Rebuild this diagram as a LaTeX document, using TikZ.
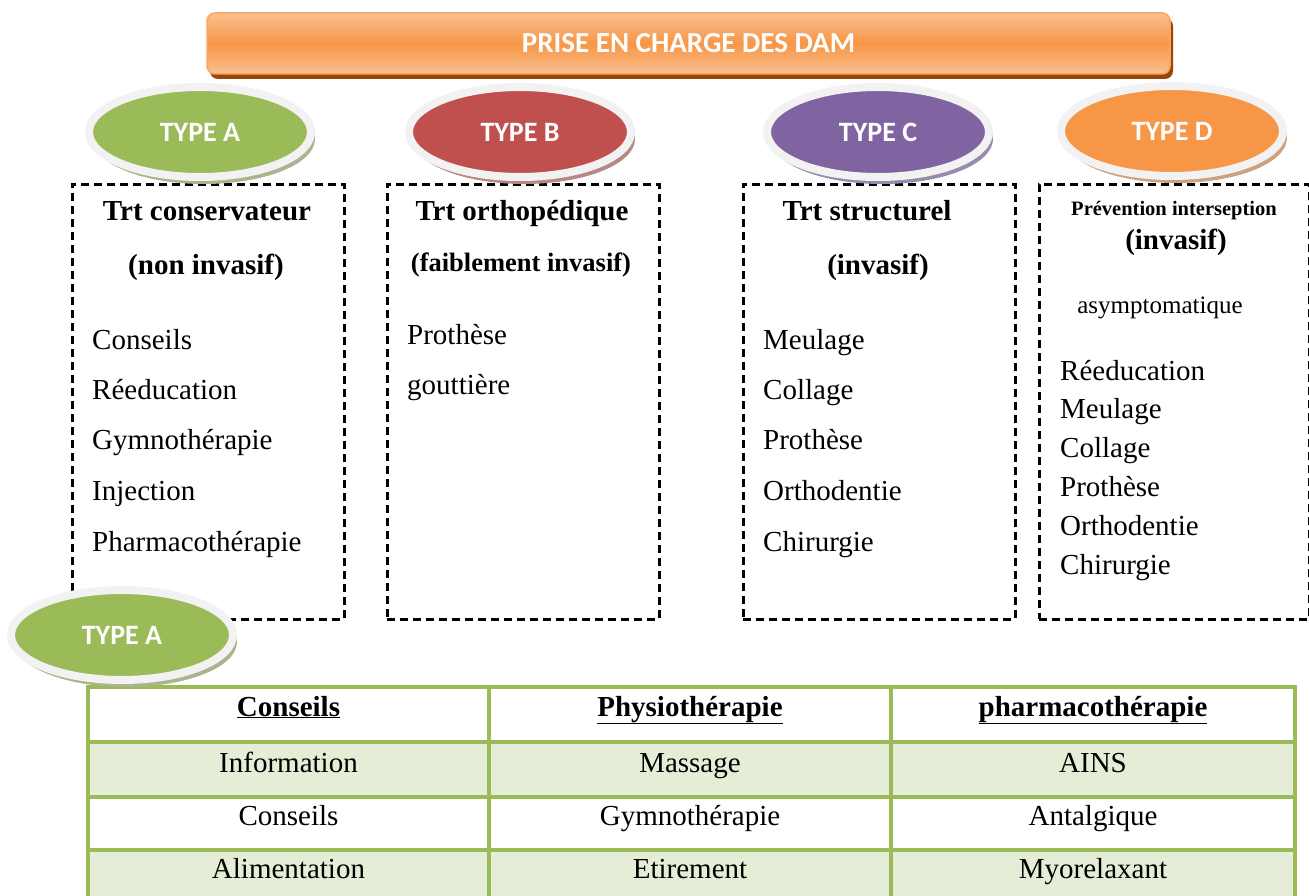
\documentclass[tikz,border=0pt]{standalone}
\usepackage{fontspec}
\setmainfont{Liberation Serif}
\newfontfamily\calibri{Carlito}
\usetikzlibrary{shapes.geometric,shadows}

\definecolor{gA}{RGB}{155,187,89}
\definecolor{rB}{RGB}{192,80,77}
\definecolor{pC}{RGB}{128,100,162}
\definecolor{oD}{RGB}{247,150,70}
\definecolor{shA}{RGB}{170,180,142}
\definecolor{shB}{RGB}{184,136,134}
\definecolor{shC}{RGB}{152,138,172}
\definecolor{shD}{RGB}{206,162,128}
\definecolor{rim}{RGB}{242,242,242}
\definecolor{bannerlight}{RGB}{250,192,144}
\definecolor{bannerdark}{RGB}{151,72,6}
\definecolor{tabline}{RGB}{155,187,89}
\definecolor{tabfill}{RGB}{229,237,214}

\tikzset{
  badge/.style 2 args={ellipse, fill=#1, draw=rim, line width=8pt,
    minimum width=222pt, minimum height=90pt, inner sep=0pt,
    font=\calibri\bfseries\fontsize{28}{32}\selectfont, text=white,
    drop shadow={shadow xshift=4pt, shadow yshift=-7pt, fill=#2, opacity=1}},
  dbox/.style={draw=black, line width=2.6pt, dash pattern=on 8pt off 5pt,
    minimum width=272pt, minimum height=435pt, inner sep=0pt, anchor=north west},
  ttl/.style={font=\bfseries\fontsize{29}{32}\selectfont, anchor=base},
  itm/.style={font=\fontsize{29}{32}\selectfont, anchor=base west, inner sep=0pt},
  cellt/.style={font=\fontsize{29}{32}\selectfont, anchor=base},
  headt/.style={font=\bfseries\fontsize{29}{32}\selectfont, anchor=base},
}

\begin{document}
\begin{tikzpicture}[x=1pt,y=-1pt]
\useasboundingbox (0,0) rectangle (1309,896);

% main banner
\node[rounded corners=8pt, draw=oD!85!white, line width=1.5pt,
  top color=bannerlight, bottom color=bannerlight, middle color=oD,
  minimum width=963pt, minimum height=61pt,
  drop shadow={shadow xshift=3pt, shadow yshift=-5pt, fill=bannerdark, opacity=1},
  font=\calibri\bfseries\fontsize{29}{32}\selectfont, text=white]
  (banner) at (688.5,43.5) {PRISE EN CHARGE DES DAM};

% dashed frames
\node[dbox] (boxa) at (71,183) {};
\node[dbox] (boxb) at (386,183) {};
\node[dbox] (boxc) at (742,183) {};
\node[dbox, minimum width=270pt] (boxd) at (1038,183) {};

% type badges
\node[badge={gA}{shA}] (typea) at (200,132) {TYPE A};
\node[badge={rB}{shB}] (typeb) at (520,132) {TYPE B};
\node[badge={pC}{shC}] (typec) at (878,132) {TYPE C};
\node[badge={oD}{shD}] (typed) at (1172,131) {TYPE D};

% frame A
\node[ttl] (ta1) at (207,221) {Trt conservateur};
\node[ttl] (ta2) at (206,274) {(non invasif)};
\node[itm] (a1) at (92,349) {Conseils};
\node[itm] (a2) at (92,399) {Réeducation};
\node[itm] (a3) at (92,449) {Gymnothérapie};
\node[itm] (a4) at (92,500) {Injection};
\node[itm] (a5) at (92,551) {Pharmacothérapie};

% frame B
\node[ttl] (tb1) at (522,221) {Trt orthopédique};
\node[ttl, font=\bfseries\fontsize{26.5}{30}\selectfont] (tb2) at (521,271) {(faiblement invasif)};
\node[itm] (b1) at (407,344) {Prothèse};
\node[itm] (b2) at (407,394) {gouttière};

% frame C
\node[ttl] (tc1) at (867,221) {Trt structurel};
\node[ttl] (tc2) at (878,274) {(invasif)};
\node[itm] (c1) at (763,349) {Meulage};
\node[itm] (c2) at (763,399) {Collage};
\node[itm] (c3) at (763,449) {Prothèse};
\node[itm] (c4) at (763,500) {Orthodentie};
\node[itm] (c5) at (763,551) {Chirurgie};

% frame D
\node[ttl, font=\bfseries\fontsize{20.5}{24}\selectfont] (td1) at (1174,215) {Prévention interseption};
\node[ttl] (td2) at (1176,249) {(invasif)};
\node[cellt, font=\fontsize{25}{30}\selectfont] (td3) at (1160,313) {asymptomatique};
\node[itm] (d1) at (1060,380) {Réeducation};
\node[itm] (d2) at (1060,418) {Meulage};
\node[itm] (d3) at (1060,457) {Collage};
\node[itm] (d4) at (1060,496) {Prothèse};
\node[itm] (d5) at (1060,535) {Orthodentie};
\node[itm] (d6) at (1060,574) {Chirurgie};

% table of type A treatments
\fill[tabfill] (88,742) rectangle (1295,797);
\fill[tabfill] (88,850) rectangle (1295,896);
\draw[tabline, line width=4pt]
  (88,896) -- (88,687) -- (1295,687) -- (1295,896)
  (489,687) -- (489,896)
  (891,687) -- (891,896)
  (88,742) -- (1295,742)
  (88,797) -- (1295,797)
  (88,850) -- (1295,850);

\node[headt] (h1) at (288.5,716) {\underline{Conseils}};
\node[headt] (h2) at (690,716) {\underline{Physiothérapie}};
\node[headt] (h3) at (1093,716) {\underline{pharmacothérapie}};
\node[cellt] (r11) at (288.5,772) {Information};
\node[cellt] (r12) at (690,772) {Massage};
\node[cellt] (r13) at (1093,772) {AINS};
\node[cellt] (r21) at (288.5,825) {Conseils};
\node[cellt] (r22) at (690,825) {Gymnothérapie};
\node[cellt] (r23) at (1093,825) {Antalgique};
\node[cellt] (r31) at (288.5,878) {Alimentation};
\node[cellt] (r32) at (690,878) {Etirement};
\node[cellt] (r33) at (1093,878) {Myorelaxant};

% badge over the table corner
\node[badge={gA}{shA}] (typea2) at (122,635) {TYPE A};
\end{tikzpicture}
\end{document}
